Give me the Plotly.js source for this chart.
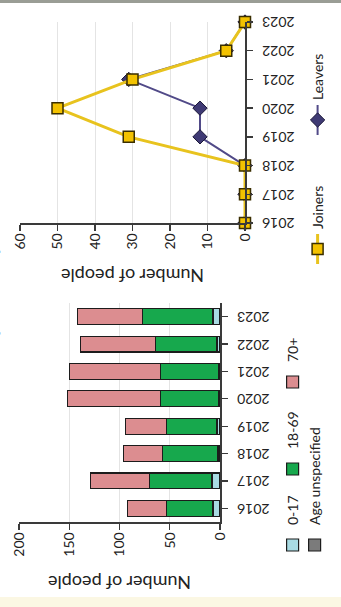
<!DOCTYPE html>
<html><head><meta charset="utf-8">
<script src="https://cdn.plot.ly/plotly-3.0.1.min.js"></script>
<style>
html,body{margin:0;padding:0;width:341px;height:607px;overflow:hidden;background:#fff;}
#wrap{position:absolute;left:0;top:0;width:607px;height:341px;transform-origin:0 0;transform:translate(0px,607px) rotate(-90deg);}
#chart{width:607px;height:341px;}
</style></head><body><div id="wrap"><div id="chart"></div></div>
<script>
// ---- data ----
const years = ['2016','2017','2018','2019','2020','2021','2022','2023'];
const age0to17 = [7, 8, 2, 3, 1, 1, 3, 7];
const age18to69 = [46, 62, 55, 50, 58, 58, 61, 70];
const age70plus = [39, 59, 39, 41, 93, 91, 75, 65];
const ageUnspecified = [0, 0, 0, 0, 0, 0, 0, 0];
const lineYears = [2016, 2017, 2018, 2019, 2020, 2021, 2022, 2023];
const joiners = [0, 0, 0, 31, 50, 30, 5, 0];
const leavers = [0, 0, 0, 12, 12, 31, 5, 0];
const titleText = 'Membership Summary 2016–23';

// ---- layout helpers (original, unrotated frame 607x341) ----
const W = 607, H = 341;
const px = X => X / W;
const py = Y => 1 - Y / H;

const outline = {color: '#1c1c1c', width: 1.2};
const barCol = {a: '#a9dbe3', b: '#17a84d', c: '#dc8d90', d: '#7b7b7b'};

const traces = [
  {type:'bar', name:'0-17', x:years, y:age0to17, marker:{color:barCol.a, line:outline}, legend:'legend', xaxis:'x', yaxis:'y'},
  {type:'bar', name:'18-69', x:years, y:age18to69, marker:{color:barCol.b, line:outline}, legend:'legend2', xaxis:'x', yaxis:'y'},
  {type:'bar', name:'70+', x:years, y:age70plus, marker:{color:barCol.c, line:outline}, legend:'legend3', xaxis:'x', yaxis:'y'},
  {type:'bar', name:'Age unspecified', x:years, y:ageUnspecified, marker:{color:barCol.d, line:outline}, legend:'legend4', xaxis:'x', yaxis:'y'},
  {type:'scatter', mode:'lines+markers', name:'Leavers', x:lineYears, y:leavers, cliponaxis:false,
   line:{color:'#514a88', width:2}, marker:{symbol:'diamond', size:11, color:'#3f3a74', line:{color:'#1b1838', width:1}},
   legend:'legend6', xaxis:'x2', yaxis:'y2'},
  {type:'scatter', mode:'lines+markers', name:'Joiners', x:lineYears, y:joiners, cliponaxis:false,
   line:{color:'#e8c31e', width:3}, marker:{symbol:'square', size:11, color:'#f3c200', line:{color:'#3a2e00', width:1.5}},
   legend:'legend5', xaxis:'x2', yaxis:'y2'}
];

const axisCommon = {showline:true, linecolor:'#3a3a3a', linewidth:1.5, ticks:'outside', ticklen:6, tickcolor:'#3a3a3a', tickwidth:1.3,
  tickfont:{size:14, color:'#222'}, zeroline:false};

function leg(X, Y) {
  return {x: px(X - 22), y: py(Y), xanchor:'left', yanchor:'middle', orientation:'h', bgcolor:'rgba(0,0,0,0)',
    font:{size:14, color:'#222'}, itemclick:false};
}

const layout = {
  width: W, height: H,
  margin:{l:0, r:0, t:0, b:0},
  paper_bgcolor:'#ffffff', plot_bgcolor:'rgba(0,0,0,0)',
  font:{family:'Lato, "Open Sans", sans-serif', color:'#222'},
  barmode:'stack', bargap:0.42,
  xaxis: Object.assign({}, axisCommon, {type:'category', domain:[px(85), px(304)], anchor:'y', tickangle:-90, showgrid:false, ticklabelstandoff:4}),
  yaxis: Object.assign({}, axisCommon, {domain:[py(220), py(19)], anchor:'x', range:[0,200], dtick:50, showgrid:true, gridcolor:'#e4e4e4',
    title:{text:'Number of people', font:{size:18, color:'#222'}, standoff:14}}),
  xaxis2: Object.assign({}, axisCommon, {domain:[px(384), px(585)], anchor:'y2', range:[2016,2023], tickvals:lineYears, ticktext:years,
    tickangle:-90, showgrid:false, ticklabelstandoff:4}),
  yaxis2: Object.assign({}, axisCommon, {domain:[py(245), py(20)], anchor:'x2', range:[0,60], dtick:10, showgrid:true, gridcolor:'#e4e4e4',
    title:{text:'Number of people', font:{size:18, color:'#222'}, standoff:14}}),
  legend: leg(64, 293),
  legend2: leg(140, 293),
  legend3: leg(227, 293),
  legend4: leg(64, 315),
  legend5: leg(360, 318),
  legend6: leg(489, 318),
  showlegend:true,
  annotations:[{text:'<b>'+titleText+'</b>', xref:'paper', yref:'paper', x:px(310), y:py(3), xanchor:'center', yanchor:'bottom',
    showarrow:false, font:{size:18, color:'#222'}}],
  shapes:[
    {type:'rect', xref:'paper', yref:'paper', x0:px(604), x1:1, y0:0, y1:1, fillcolor:'#9a9d95', line:{width:0}},
    {type:'rect', xref:'paper', yref:'paper', x0:0, x1:px(10), y0:0, y1:1, fillcolor:'#fbf7e3', line:{width:0}}
  ]
};

Plotly.newPlot('chart', traces, layout, {staticPlot:true, displayModeBar:false});
</script></body></html>
